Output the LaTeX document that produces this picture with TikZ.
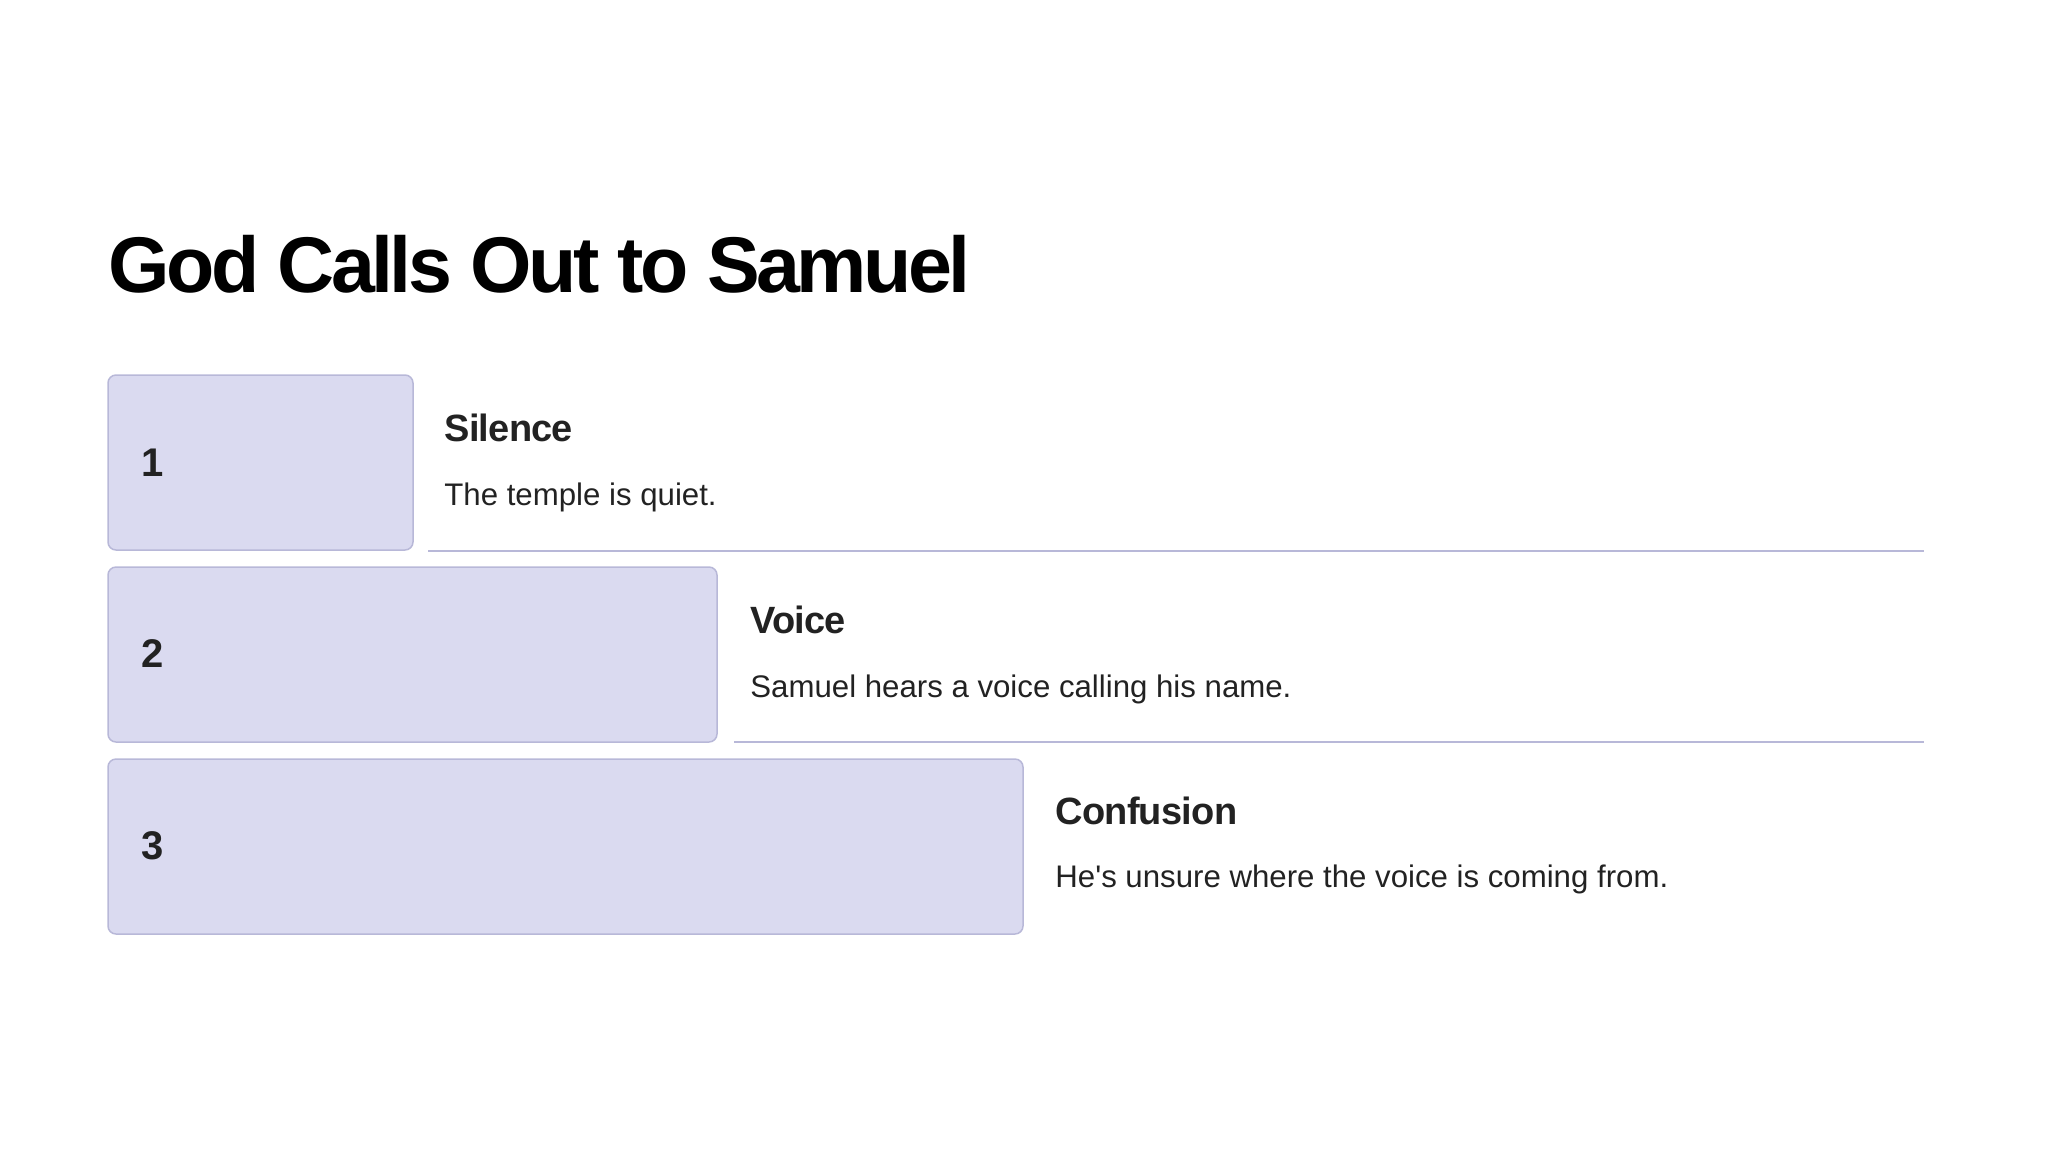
\documentclass[tikz,border=0pt]{standalone}
\usepackage{fontspec}
\setmainfont{Liberation Sans}
\definecolor{boxfill}{HTML}{DADAF0}
\definecolor{boxline}{HTML}{B8B8D8}
\definecolor{txt}{HTML}{222222}
\begin{document}
\begin{tikzpicture}[x=0.5pt,y=-0.5pt,
  stepbox/.style={draw=boxline,fill=boxfill,line width=0.75pt,rounded corners=4pt,inner sep=0pt,outer sep=0pt,anchor=north west,minimum height=87.5pt},
  numlbl/.style={anchor=base west,inner sep=0pt,text=txt,font=\fontsize{20}{24}\selectfont\bfseries},
  headlbl/.style={anchor=base west,inner sep=0pt,text=txt,font=\fontsize{19}{23}\selectfont\bfseries\addfontfeature{LetterSpace=-2}},
  bodylbl/.style={anchor=base west,inner sep=0pt,text=txt,font=\fontsize{15.6}{19}\selectfont},
  sep/.style={draw=boxline,line width=1pt}]
\useasboundingbox (0,0) rectangle (2048,1152);
\node[anchor=base west,inner sep=0pt,font=\fontsize{39.5}{47}\selectfont\bfseries\addfontfeature{LetterSpace=-4.5}] (title) at (108,292) {God Calls Out to Samuel};
% boxes
\node[stepbox,minimum width=152.5pt] (b1) at (108,375) {};
\node[stepbox,minimum width=304.5pt] (b2) at (108,567) {};
\node[stepbox,minimum width=457.5pt] (b3) at (108,759) {};
\node[numlbl] (n1) at (141,476) {1};
\node[numlbl] (n2) at (141,667) {2};
\node[numlbl] (n3) at (141,859) {3};
% texts
\node[headlbl] (h1) at (444,441) {Silence};
\node[bodylbl] (t1) at (444,505) {The temple is quiet.};
\node[headlbl] (h2) at (750,633) {Voice};
\node[bodylbl] (t2) at (750,697) {Samuel hears a voice calling his name.};
\node[headlbl] (h3) at (1055,824) {Confusion};
\node[bodylbl] (t3) at (1055,887) {He\textquotesingle s unsure where the voice is coming from.};
% separators
\coordinate (s1a) at (428,551); \coordinate (s1b) at (1924,551);
\coordinate (s2a) at (734,742); \coordinate (s2b) at (1924,742);
\draw[sep] (s1a) -- (s1b);
\draw[sep] (s2a) -- (s2b);
\end{tikzpicture}
\end{document}
